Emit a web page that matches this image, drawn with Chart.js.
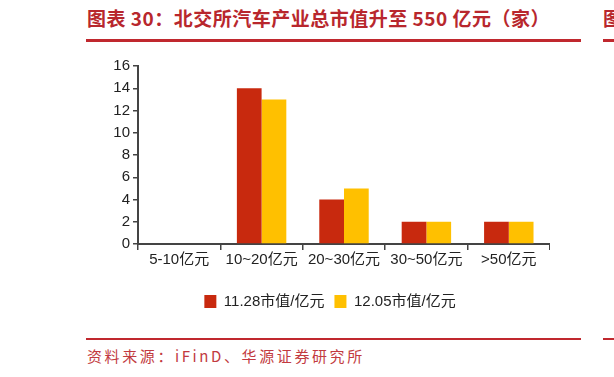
<!DOCTYPE html>
<html>
<head>
<meta charset="utf-8">
<script src="https://cdn.jsdelivr.net/npm/chart.js@4.4.1/dist/chart.umd.min.js"></script>
<style>
    html, body { margin: 0; padding: 0; background: #fff; }
    body { width: 614px; height: 377px; overflow: hidden; position: relative; }
    .title { position: absolute; left: 87px; top: 4px; font: bold 19px "Noto Sans CJK SC", sans-serif; letter-spacing: 0.5px; color: #b8272d; white-space: nowrap; }
    .rule { position: absolute; background: #c0282e; }
    .source { position: absolute; left: 87px; top: 345px; font: 15px "Noto Sans CJK SC", sans-serif; letter-spacing: 2.6px; color: #c23a40; white-space: nowrap; }
    .edge { position: absolute; left: 603px; font: bold 19px "Noto Sans CJK SC", sans-serif; color: #b8272d; }
    #wrap { position: absolute; left: 110px; top: 45px; width: 440px; height: 280px; }
</style>
</head>
<body>
<div class="title">图表 30：北交所汽车产业总市值升至 550 亿元（家）</div>
<div class="rule" style="left:86px; top:39px; width:495px; height:3px;"></div>
<div class="rule" style="left:603px; top:39px; width:11px; height:3px;"></div>
<div class="edge" style="top:4px;">图</div>

<div id="wrap"><canvas id="chart"></canvas></div>

<div class="rule" style="left:86px; top:338px; width:495px; height:2px;"></div>
<div class="rule" style="left:603px; top:338px; width:11px; height:2px;"></div>
<div class="source">资料来源：iFinD、华源证券研究所</div>

<script>
// Data
const categories = ['5-10亿元', '10~20亿元', '20~30亿元', '30~50亿元', '>50亿元'];
const seriesNames = ['11.28市值/亿元', '12.05市值/亿元'];
const values1128 = [0, 14, 4, 2, 2];
const values1205 = [0, 13, 5, 2, 2];
const yTicks = [0, 2, 4, 6, 8, 10, 12, 14, 16];

const fontFamily = '"Liberation Sans", Arial, "Noto Sans CJK SC", sans-serif';
const axisColor = '#444';

// Chart
const ctx = document.getElementById('chart');
new Chart(ctx, {
    type: 'bar',
    data: {
        labels: categories,
        datasets: [{
            label: seriesNames[0],
            data: values1128,
            backgroundColor: '#c8290e',
            categoryPercentage: 0.6,
            barPercentage: 1.0
        }, {
            label: seriesNames[1],
            data: values1205,
            backgroundColor: '#ffc000',
            categoryPercentage: 0.6,
            barPercentage: 1.0
        }]
    },
    options: {
        responsive: true,
        maintainAspectRatio: false,
        animation: false,
        layout: {
            padding: { top: 21, left: 0, right: 0, bottom: 6 }
        },
        plugins: {
            legend: {
                position: 'bottom',
                labels: {
                    boxWidth: 12,
                    boxHeight: 13,
                    padding: 10,
                    color: '#222',
                    font: { family: fontFamily, size: 15 }
                }
            },
            tooltip: { enabled: false }
        },
        scales: {
            x: {
                afterFit: scale => {
                    scale.height += 14;
                },
                grid: {
                    drawOnChartArea: false,
                    drawTicks: true,
                    tickLength: 6,
                    color: axisColor,
                    lineWidth: 1.5
                },
                border: { display: true, color: axisColor, width: 2 },
                ticks: {
                    color: '#222',
                    padding: 1,
                    maxRotation: 0,
                    autoSkip: false,
                    font: { family: fontFamily, size: 15 }
                }
            },
            y: {
                min: 0,
                max: 16,
                afterBuildTicks: scale => {
                    scale.ticks = yTicks.map(v => ({ value: v }));
                },
                afterFit: scale => {
                    scale.width = 28;
                },
                grid: {
                    drawOnChartArea: false,
                    drawTicks: true,
                    tickLength: 5,
                    color: axisColor,
                    lineWidth: 1.5
                },
                border: { display: true, color: axisColor, width: 2 },
                ticks: {
                    color: '#222',
                    padding: 3,
                    font: { family: fontFamily, size: 15 }
                }
            }
        }
    }
});
</script>
</body>
</html>
